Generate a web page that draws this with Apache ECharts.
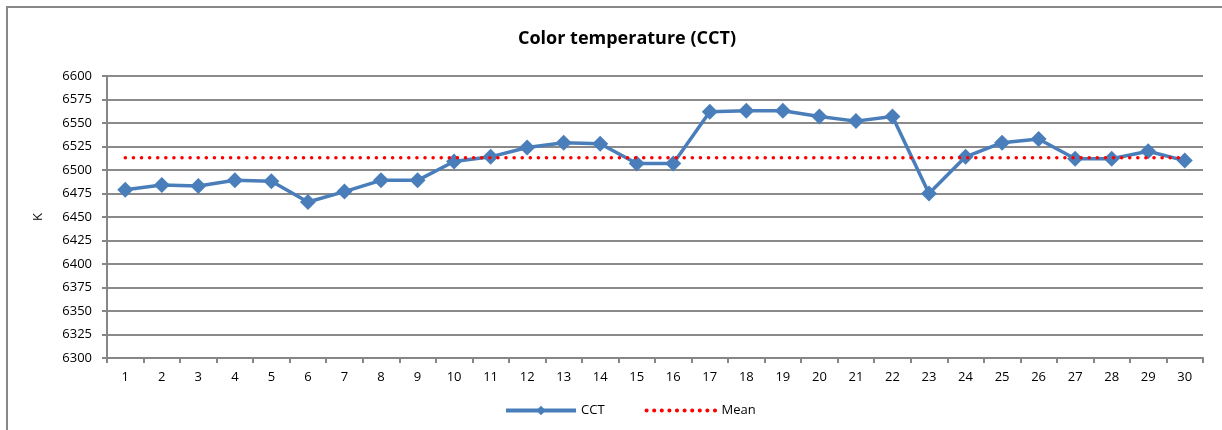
<!DOCTYPE html>
<html>
<head>
<meta charset="utf-8">
<script src="https://cdn.jsdelivr.net/npm/echarts@6/dist/echarts.min.js"></script>
<style>
  html, body { margin: 0; padding: 0; background: #fff; }
  #main { width: 1222px; height: 430px; }
</style>
</head>
<body>
<div id="main"></div>
<script>
// 数据
var days = ['1','2','3','4','5','6','7','8','9','10','11','12','13','14','15','16','17','18','19','20','21','22','23','24','25','26','27','28','29','30'];
var cct = [6479, 6484, 6483, 6489, 6488, 6466, 6477, 6489, 6489, 6509,
           6514, 6524, 6529, 6528, 6507, 6507, 6562, 6563, 6563, 6557,
           6552, 6557, 6475, 6514, 6529, 6533, 6512, 6512, 6520, 6510];
var meanVal = [6513, 6513, 6513, 6513, 6513, 6513, 6513, 6513, 6513, 6513,
               6513, 6513, 6513, 6513, 6513, 6513, 6513, 6513, 6513, 6513,
               6513, 6513, 6513, 6513, 6513, 6513, 6513, 6513, 6513, 6513];

var myChart = echarts.init(document.getElementById('main'));
var font = 'Open Sans, Liberation Sans, sans-serif';

var option = {
    backgroundColor: '#fff',
    animation: false,
    textStyle: { fontFamily: font },
    graphic: [{
        type: 'rect',
        shape: { x: 7, y: 7, width: 1240, height: 440 },
        style: { fill: 'none', stroke: '#888', lineWidth: 2 },
        silent: true
    }],
    title: {
        text: 'Color temperature (CCT)',
        left: 513,
        top: 25,
        textStyle: { fontSize: 18, fontWeight: 'bold', color: '#000', fontFamily: font }
    },
    legend: {
        bottom: 8,
        left: 499,
        itemWidth: 70,
        itemHeight: 12,
        itemGap: 40,
        textStyle: { fontSize: 13, color: '#000' },
        data: [
            { name: 'CCT', lineStyle: { width: 4 } },
            { name: 'Mean', itemStyle: { opacity: 0 }, lineStyle: { width: 4, type: [0.1, 7.5], cap: 'round' } }
        ]
    },
    grid: {
        left: 107,
        right: 19,
        top: 76,
        bottom: 72
    },
    xAxis: {
        type: 'category',
        boundaryGap: true,
        data: days,
        axisLine: { lineStyle: { color: '#868686', width: 2 } },
        axisTick: { show: true, length: 5, lineStyle: { color: '#868686', width: 2 } },
        axisLabel: { color: '#000', fontSize: 13, margin: 13 }
    },
    yAxis: {
        type: 'value',
        name: 'K',
        nameLocation: 'middle',
        nameGap: 62,
        nameTextStyle: { color: '#000', fontSize: 13 },
        min: 6300,
        max: 6600,
        interval: 25,
        axisLine: { show: true, lineStyle: { color: '#868686', width: 2 } },
        axisTick: { show: true, length: 5, lineStyle: { color: '#868686', width: 2 } },
        axisLabel: {
            color: '#000', fontSize: 13, margin: 15,
            formatter: function (v) { return String(v); }
        },
        splitLine: { lineStyle: { color: '#8a8a8a', width: 2 } }
    },
    series: [
        {
            name: 'CCT',
            type: 'line',
            data: cct,
            symbol: 'diamond',
            symbolSize: 16,
            itemStyle: { color: '#4a7ebb' },
            lineStyle: { color: '#4a7ebb', width: 3.5 },
            z: 3
        },
        {
            name: 'Mean',
            type: 'line',
            data: meanVal,
            symbol: 'none',
            itemStyle: { color: '#ff0000' },
            lineStyle: { color: '#ff0000', width: 3.5, type: [0.1, 8], cap: 'round' },
            z: 4
        }
    ]
};

myChart.setOption(option);
</script>
</body>
</html>
